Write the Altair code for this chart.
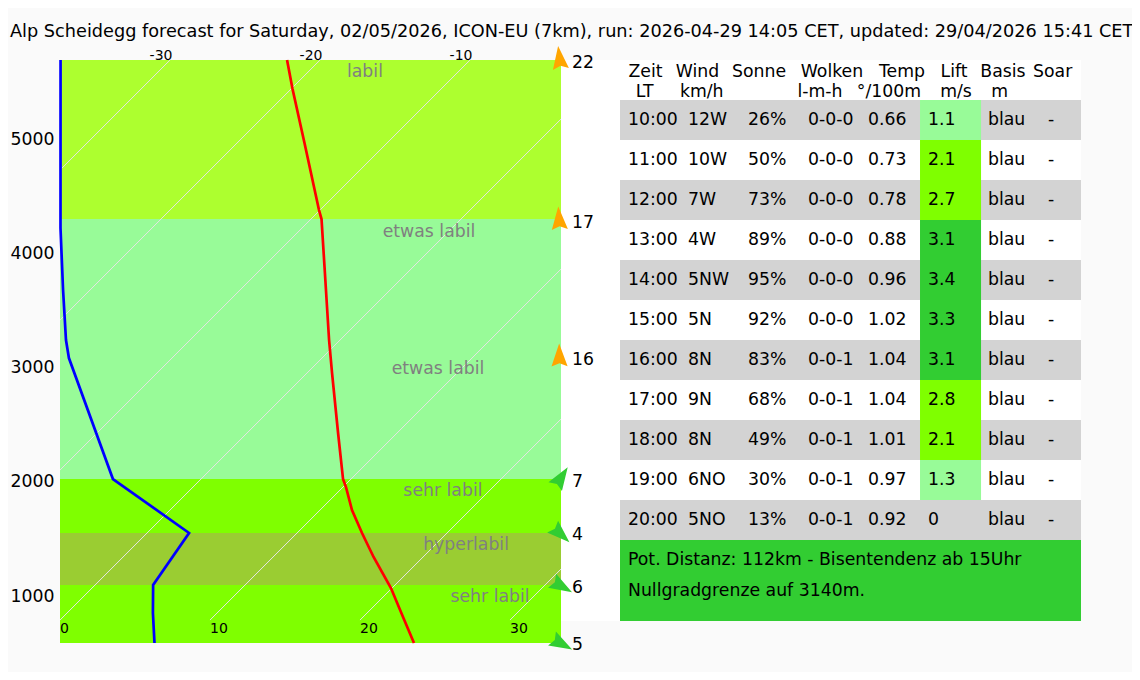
import altair as alt
import pandas as pd

title = "Alp Scheidegg forecast for Saturday, 02/05/2026, ICON-EU (7km), run: 2026-04-29 14:05 CET, updated: 29/04/2026 15:41 CET"

# sounding
alt_t = [5683, 5429, 4956, 4370, 4291, 3871, 3232, 2943, 2418, 2015, 1945, 1744, 1543, 1333, 1061, 807, 580]
temp = [-22.2, -19.9, -15.5, -10.07, -9.3, -5.9, -0.73, 1.67, 6.07, 9.47, 10.2, 12.13, 14.33, 16.7, 19.93, 22.67, 25.13]
alt_d = [5683, 4212, 3670, 3232, 3074, 2015, 1543, 1088, 842, 580]
dew = [-37.3, -26.1, -21.8, -18.27, -16.87, -5.87, 2.8, 3.87, 5.73, 7.83]

# stability bands
band_top = [5683, 4291, 2015, 1543, 1088]
band_bot = [4291, 2015, 1543, 1088, 580]
band_name = ["labil", "etwas labil", "sehr labil", "hyperlabil", "sehr labil"]
band_labels = ["labil", "etwas labil", "etwas labil", "sehr labil", "hyperlabil", "sehr labil"]
band_label_x = [20.33, 24.6, 25.2, 25.53, 27.07, 28.67]
band_label_alt = [5577, 4177, 2978, 1910, 1437, 982]

# isotherms
iso_temps = [-30, -20, -10, 0, 10, 20, 30]
iso_top_labels = [-30, -20, -10]
iso_bot_labels = [0, 10, 20, 30]

# wind aloft
wind_speed = ["22", "17", "16", "7", "4", "6", "5"]
wind_kind = ["o", "o", "o", "g", "g", "g", "g"]
wind_angle = [-7, -4, -1, 33, 133, 120, 119]
wind_alt = [5705, 4300, 3101, 2033, 1530, 1075, 571]
wind_x = [33.3, 33.27, 33.29, 33.43, 33.4, 33.47, 33.47]
wind_label_alt = [5657, 4256, 3057, 1991, 1521, 1062, 562]

# table
times = ["10:00", "11:00", "12:00", "13:00", "14:00", "15:00", "16:00", "17:00", "18:00", "19:00", "20:00"]
wind = ["12W", "10W", "7W", "4W", "5NW", "5N", "8N", "9N", "8N", "6NO", "5NO"]
sun = ["26%", "50%", "73%", "89%", "95%", "92%", "83%", "68%", "49%", "30%", "13%"]
clouds = ["0-0-0"] * 6 + ["0-0-1"] * 5
lapse = ["0.66", "0.73", "0.78", "0.88", "0.96", "1.02", "1.04", "1.04", "1.01", "0.97", "0.92"]
lift = [1.1, 2.1, 2.7, 3.1, 3.4, 3.3, 3.1, 2.8, 2.1, 1.3, 0]
basis = ["blau"] * 11
soar = ["-"] * 11
head1 = ["Zeit", "Wind", "Sonne", "Wolken", "Temp", "Lift", "Basis", "Soar"]
head1_x = [0.425, 1.292, 2.317, 3.533, 4.7, 5.567, 6.383, 7.21]
head2 = ["LT", "km/h", "l-m-h", "°/100m", "m/s", "m"]
head2_x = [0.412, 1.362, 3.333, 4.483, 5.6, 6.327]
notes = ["Pot. Distanz: 112km - Bisentendenz ab 15Uhr", "Nullgradgrenze auf 3140m."]

FONT = "DejaVu Sans"
FS = 17.3
PX_KM = 0.11425
K = PX_KM / 15
H0 = 781
XMAX = 33.4
ALT_MIN, ALT_MAX = 580, 5683
COLS = 7.683

sx = alt.Scale(domain=[0, XMAX], range=[0, 501], nice=False, zero=False)
sy = alt.Scale(domain=[ALT_MIN, ALT_MAX], range=[583, 0], nice=False, zero=False)
tx = alt.Scale(domain=[0, COLS], range=[560, 1021], nice=False, zero=False)
ty = alt.Scale(domain=[-1, 13.575], range=[0, 583], nice=False, zero=False)


def skew(t, h):
    return t + (h - H0) * K


def X(f):
    return alt.X(f, type="quantitative", scale=sx, axis=None)


def Y(f, axis=None):
    return alt.Y(f, type="quantitative", scale=sy, axis=axis)


def TX(f):
    return alt.X(f, type="quantitative", scale=tx, axis=None)


def TY(f):
    return alt.Y(f, type="quantitative", scale=ty, axis=None)


# white panel behind the table and beside the plot
panel = alt.Chart(pd.DataFrame({"a": [-0.983], "b": [COLS], "c": [-1], "d": [13.025]})).mark_rect(
    fill="#ffffff", stroke=None
).encode(x=TX("a"), x2="b", y=TY("c"), y2="d")

bands_df = pd.DataFrame({"top": band_top, "bot": band_bot, "name": band_name, "l": [0] * 5, "r": [XMAX] * 5})
bands = alt.Chart(bands_df).mark_rect(stroke=None).encode(
    x=X("l"), x2="r",
    y=Y("top", alt.Axis(values=[1000, 2000, 3000, 4000, 5000], domain=False, ticks=False, grid=False,
                        labelFontSize=FS, labelColor="#000000", labelPadding=6, labelFont=FONT,
                        labelOffset=1, title=None, labelOverlap=False, format="d")),
    y2="bot",
    color=alt.Color("name:N", legend=None, scale=alt.Scale(
        domain=["labil", "etwas labil", "sehr labil", "hyperlabil"],
        range=["#ADFF2F", "#98FB98", "#7FFF00", "#9ACD32"])),
)

iso_rows = []
for t in iso_temps:
    h1 = max(H0, H0 - t / K)
    h2 = min(ALT_MAX, H0 + (XMAX - t) / K)
    iso_rows += [{"t": t, "h": h1, "x": skew(t, h1)}, {"t": t, "h": h2, "x": skew(t, h2)}]
iso = alt.Chart(pd.DataFrame(iso_rows)).mark_line(color="#e4e4e4", strokeWidth=1).encode(
    x=X("x"), y=Y("h"), detail="t:N", order="h:Q")

iso_top = alt.Chart(pd.DataFrame({"t": iso_top_labels, "x": [skew(t, ALT_MAX) - 0.6 for t in iso_top_labels],
                                  "h": [5718] * 3})).mark_text(
    font=FONT, fontSize=14, color="#000000", align="center", baseline="middle").encode(
    x=X("x"), y=Y("h"), text="t:N")
iso_bot = alt.Chart(pd.DataFrame({"t": iso_bot_labels, "x": iso_bot_labels, "h": [702] * 4})).mark_text(
    font=FONT, fontSize=14, color="#000000", align="left", baseline="middle").encode(
    x=X("x"), y=Y("h"), text="t:N")

temp_df = pd.DataFrame({"h": alt_t, "v": [skew(t, h) for t, h in zip(temp, alt_t)]})
temp_line = alt.Chart(temp_df).mark_line(color="#FF0000", strokeWidth=2.7).encode(x=X("v"), y=Y("h"), order="h:Q")
dew_df = pd.DataFrame({"h": alt_d, "v": [skew(t, h) for t, h in zip(dew, alt_d)]})
dew_line = alt.Chart(dew_df).mark_line(color="#0000FF", strokeWidth=2.7).encode(x=X("v"), y=Y("h"), order="h:Q")

band_text = alt.Chart(pd.DataFrame({"t": band_labels, "x": band_label_x, "h": band_label_alt})).mark_text(
    font=FONT, fontSize=FS, color="#808080", align="center", baseline="middle").encode(
    x=X("x"), y=Y("h"), text="t:N")

ARROW = "M0,-1 L0.7,1 L0,0.72 L-0.7,1 Z"
wind_df = pd.DataFrame({"k": wind_kind, "a": wind_angle, "h": wind_alt, "x": wind_x,
                        "s": wind_speed, "lh": wind_label_alt, "lx": [34.13] * 7})
arrows = alt.Chart(wind_df).mark_point(shape=ARROW, size=529, filled=True, opacity=1, strokeWidth=0).encode(
    x=X("x"), y=Y("h"), angle=alt.Angle("a:Q", scale=alt.Scale(domain=[-360, 360], range=[-360, 360])),
    color=alt.Color("k:N", legend=None, scale=alt.Scale(domain=["o", "g"], range=["#FFA500", "#32CD32"])),
)
wind_text = alt.Chart(wind_df).mark_text(font=FONT, fontSize=FS, color="#000000", align="left", baseline="middle").encode(
    x=X("lx"), y=Y("lh"), text="s:N")

rows_df = pd.DataFrame({"r": list(range(0, 11, 2)), "r2": [r + 1 for r in range(0, 11, 2)],
                        "a": [0] * 6, "b": [COLS] * 6})
grey = alt.Chart(rows_df).mark_rect(fill="#D3D3D3", stroke=None).encode(x=TX("a"), x2="b", y=TY("r"), y2="r2")

lift_cls = ["none" if v < 1 else "low" if v < 2 else "mid" if v < 3 else "high" for v in lift]
lift_df = pd.DataFrame({"r": range(11), "r2": [i + 1 for i in range(11)], "c": lift_cls,
                        "a": [5] * 11, "b": [6.017] * 11})
lift_cells = alt.Chart(lift_df[lift_df.c != "none"]).mark_rect(stroke=None).encode(
    x=TX("a"), x2="b", y=TY("r"), y2="r2",
    color=alt.Color("c:N", legend=None, scale=alt.Scale(domain=["low", "mid", "high"],
                                                        range=["#98FB98", "#7FFF00", "#32CD32"])))

box = alt.Chart(pd.DataFrame({"a": [0], "b": [COLS], "c": [11], "d": [13.025]})).mark_rect(
    fill="#32CD32", stroke=None).encode(x=TX("a"), x2="b", y=TY("c"), y2="d")

cols = [times, wind, sun, clouds, lapse, [("0" if v == 0 else f"{v:.1f}") for v in lift], basis, soar]
cell_rows = []
for c, col in enumerate(cols):
    for r, v in enumerate(col):
        cell_rows.append({"x": c + 0.133, "y": r + 0.5, "t": v})
cells = alt.Chart(pd.DataFrame(cell_rows)).mark_text(
    font=FONT, fontSize=FS, color="#000000", align="left", baseline="middle").encode(
    x=TX("x"), y=TY("y"), text="t:N")

hdr = pd.DataFrame({"x": head1_x + head2_x,
                    "y": [-0.7] * len(head1) + [-0.2] * len(head2),
                    "t": head1 + head2})
header = alt.Chart(hdr).mark_text(font=FONT, fontSize=FS, color="#000000", align="center", baseline="middle").encode(
    x=TX("x"), y=TY("y"), text="t:N")

note_text = alt.Chart(pd.DataFrame({"x": [0.133, 0.133], "y": [11.5, 12.275], "t": notes})).mark_text(
    font=FONT, fontSize=FS, color="#000000", align="left", baseline="middle").encode(
    x=TX("x"), y=TY("y"), text="t:N")

chart = alt.layer(
    panel, bands, iso, temp_line, dew_line, band_text, iso_top, iso_bot,
    arrows, wind_text, grey, lift_cells, box, cells, header, note_text,
).resolve_scale(x="independent", y="independent", color="independent").properties(
    width=1021, height=583,
    title=alt.TitleParams(title, anchor="start", frame="group", dx=-50, offset=5, fontSize=17.7,
                          font=FONT, fontWeight="normal", color="#000000"),
    padding={"left": 52, "top": 52, "right": 51, "bottom": 29},
    autosize=alt.AutoSizeParams(type="none"),
    background="#fafafa",
).configure_view(stroke=None)

chart.save("out.html", embed_options={"renderer": "svg", "actions": False})
